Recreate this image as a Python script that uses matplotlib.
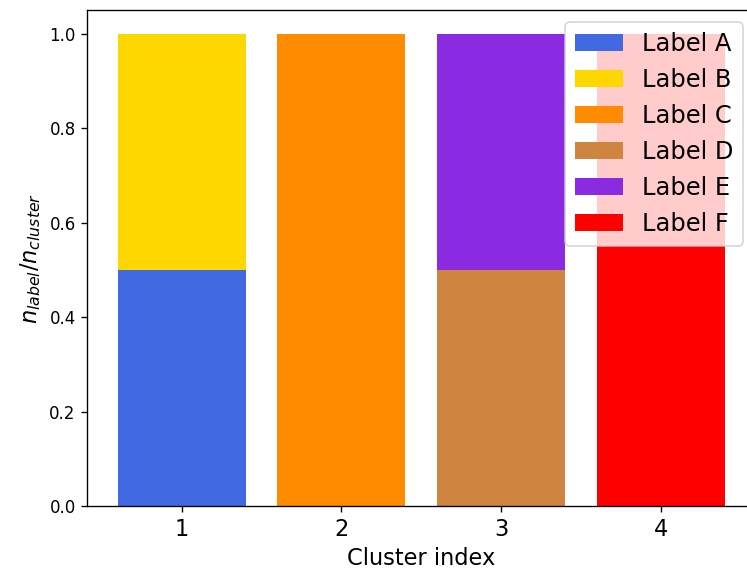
import matplotlib
matplotlib.use("Agg")
import matplotlib.pyplot as plt
import numpy as np

# Cluster composition: fraction of each label per cluster
clusters = [1, 2, 3, 4]
labels = ["Label A", "Label B", "Label C", "Label D", "Label E", "Label F"]
colors = ["royalblue", "gold", "darkorange", "peru", "blueviolet", "red"]
fractions = {
    "Label A": [0.5, 0.0, 0.0, 0.0],
    "Label B": [0.5, 0.0, 0.0, 0.0],
    "Label C": [0.0, 1.0, 0.0, 0.0],
    "Label D": [0.0, 0.0, 0.5, 0.0],
    "Label E": [0.0, 0.0, 0.5, 0.0],
    "Label F": [0.0, 0.0, 0.0, 1.0],
}

DPI = 120
fig = plt.figure(figsize=(747 / DPI, 573 / DPI), dpi=DPI)
# the original was cropped on the right, so the axes runs past the figure edge
ax = fig.add_axes([87.3 / 747, 1 - 506 / 573, 668 / 747, 496 / 573])

bottom = np.zeros(len(clusters))
for lab, col in zip(labels, colors):
    vals = np.array(fractions[lab])
    keep = vals > 0          # only draw the segments that exist
    ax.bar(np.array(clusters)[keep], vals[keep], bottom=bottom[keep],
           color=col, label=lab, width=0.8)
    bottom += vals

ax.set_xticks(clusters)
ax.set_xticklabels([str(c) for c in clusters], fontsize=13.5)
ax.set_xlabel("Cluster index", fontsize=13.5)
ax.set_ylabel(r"$n_{label}/n_{cluster}$", fontsize=13.5)
ax.legend(fontsize=14.5, loc="upper right")

fig.savefig("out.png", dpi=DPI)
